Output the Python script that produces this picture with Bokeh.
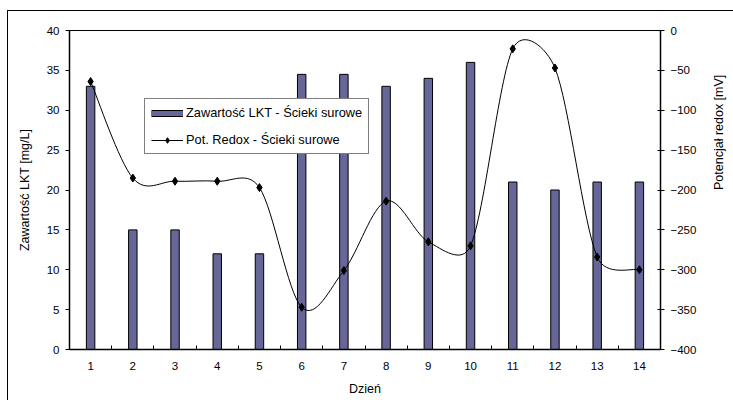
import math
import numpy as np
from bokeh.plotting import figure
from bokeh.models import (Range1d, LinearAxis, FixedTicker, Legend, LegendItem,
                          ColumnDataSource, InlineStyleSheet)
from bokeh.embed import file_html
from bokeh.resources import INLINE

# ---- data ----
days = list(range(1, 15))
day_labels = [str(d) for d in days]
lkt = [33, 15, 15, 12, 12, 34.5, 34.5, 33, 34, 36, 21, 20, 21, 21]
redox = [-64, -185, -189, -189, -197, -347, -301, -214, -265, -270, -23, -47, -284, -300]
left_ticks = [0, 5, 10, 15, 20, 25, 30, 35, 40]
right_ticks = [0, -50, -100, -150, -200, -250, -300, -350, -400]

FONT = "Liberation Sans"
BAR = "#666699"
FRAME_W, FRAME_H = 591, 319

p = figure(frame_width=FRAME_W, frame_height=FRAME_H, output_backend="svg", toolbar_location=None,
           x_range=Range1d(0.5, 14.5), y_range=Range1d(0, 40),
           min_border_left=61, min_border_right=66, min_border_top=19, min_border_bottom=52)
p.styles = {"margin-left": "7px", "margin-top": "10px"}
p.stylesheets = [InlineStyleSheet(css=":host { border-left: 1px solid black; border-top: 1px solid black; }")]
p.xgrid.visible = False
p.ygrid.visible = False
p.outline_line_color = "black"
p.outline_line_width = 1
p.background_fill_color = "white"
p.border_fill_color = "white"

p.extra_y_ranges = {"redox": Range1d(-400, 0)}

# bars
src = ColumnDataSource(dict(x=days, top=lkt))
p.vbar(x="x", top="top", width=0.2, bottom=0, source=src,
       fill_color=BAR, line_color="black", line_width=1)

# smoothed redox line (Excel-like cubic Bezier through the points)
n = len(days)
kx = FRAME_W / 14.0          # px per day
ky = FRAME_H / 400.0         # px per mV
X = np.array(days, dtype=float) * kx
Y = np.array(redox, dtype=float) * ky

def P(i):
    i = min(max(i, 0), n - 1)
    return np.array([X[i], Y[i]])

out_ctrl, in_ctrl = [], []
for i in range(n):
    T = (P(i + 1) - P(i - 1)) / 6.0
    L = np.hypot(*T)
    d_next = np.hypot(*(P(i + 1) - P(i)))
    d_prev = np.hypot(*(P(i) - P(i - 1)))
    To = T * (min(L, d_next / 2) / L) if L > 0 else T
    Ti = T * (min(L, d_prev / 2) / L) if L > 0 else T
    out_ctrl.append(P(i) + To)
    in_ctrl.append(P(i) - Ti)

bx0 = [days[i] for i in range(n - 1)]
by0 = [redox[i] for i in range(n - 1)]
bx1 = [days[i + 1] for i in range(n - 1)]
by1 = [redox[i + 1] for i in range(n - 1)]
cx0 = [out_ctrl[i][0] / kx for i in range(n - 1)]
cy0 = [out_ctrl[i][1] / ky for i in range(n - 1)]
cx1 = [in_ctrl[i + 1][0] / kx for i in range(n - 1)]
cy1 = [in_ctrl[i + 1][1] / ky for i in range(n - 1)]
p.bezier(x0=bx0, y0=by0, x1=bx1, y1=by1, cx0=cx0, cy0=cy0, cx1=cx1, cy1=cy1,
         line_color="black", line_width=1, y_range_name="redox")
p.scatter(x=days, y=redox, marker="diamond", size=8, fill_color="black",
          line_color="black", y_range_name="redox")

# legend dummies (placed outside the visible ranges)
far = dict(x=[-100, -99], y=[-100, -100])
lg_bar_outer = p.line(line_color="black", line_width=7, **far)
lg_bar_inner = p.line(line_color=BAR, line_width=5, **far)
lg_line = p.line(line_color="black", line_width=1, **far)
lg_pt = p.scatter(marker="diamond", fill_color="black", line_color="black", **far)

legend = Legend(items=[
    LegendItem(label="Zawartość LKT - Ścieki surowe", renderers=[lg_bar_outer, lg_bar_inner]),
    LegendItem(label="Pot. Redox - Ścieki surowe", renderers=[lg_line, lg_pt]),
], location=(75, 195), orientation="vertical")
legend.padding = 6
legend.spacing = 12
legend.glyph_height = 14
legend.label_height = 14
legend.glyph_width = 32
legend.label_standoff = 3
legend.margin = 0
legend.border_line_color = "black"
legend.border_line_width = 1
legend.background_fill_color = "white"
legend.background_fill_alpha = 1
legend.label_text_font = FONT
legend.label_text_font_size = "12.8px"
legend.label_text_color = "black"
p.add_layout(legend, "center")

# axes styling
def style_axis(ax):
    ax.axis_line_color = "black"
    ax.axis_line_width = 1.5
    ax.major_tick_line_color = "black"
    ax.minor_tick_line_color = "black"
    ax.major_label_text_font = FONT
    ax.major_label_text_font_size = "11.5px"
    ax.major_label_text_color = "black"
    ax.axis_label_text_font = FONT
    ax.axis_label_text_font_size = "12.5px"
    ax.axis_label_text_font_style = "normal"
    ax.axis_label_text_color = "black"

ya = p.yaxis[0]
ya.ticker = FixedTicker(ticks=left_ticks)
ya.axis_label = "Zawartość LKT [mg/L]"
ya.major_tick_in = 0
ya.major_tick_out = 4
ya.minor_tick_in = 0
ya.minor_tick_out = 0
ya.major_label_standoff = 6
ya.axis_label_standoff = 12
style_axis(ya)

xa = p.xaxis[0]
xa.ticker = FixedTicker(ticks=days, minor_ticks=[d + 0.5 for d in days[:-1]])
xa.major_label_overrides = {d: l for d, l in zip(days, day_labels)}
xa.axis_label = "Dzień"
xa.major_tick_in = 0
xa.major_tick_out = 0
xa.minor_tick_in = 4
xa.minor_tick_out = 0
xa.major_label_standoff = 12
xa.axis_label_standoff = 9
style_axis(xa)

ra = LinearAxis(y_range_name="redox", ticker=FixedTicker(ticks=right_ticks),
                axis_label="Potencjał redox [mV]")
ra.major_tick_in = 3
ra.major_tick_out = 4
ra.minor_tick_in = 0
ra.minor_tick_out = 0
ra.major_label_standoff = 6
ra.axis_label_standoff = 20
ra.axis_label_orientation = math.pi / 2
style_axis(ra)
p.add_layout(ra, "right")

open("out.html", "w").write(file_html(p, INLINE))
